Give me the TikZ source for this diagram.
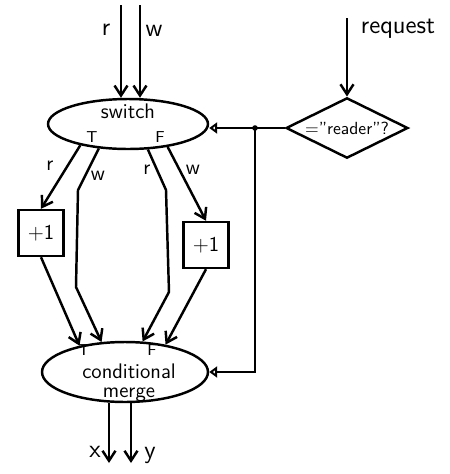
\documentclass[tikz,border=0pt]{standalone}
\usetikzlibrary{arrows.meta, shapes.geometric}
\tikzset{
    flow/.style={-{Straight Barb[length=2mm,width=2.6mm]}, line width=1.4pt},
    ctrl/.style={-{Triangle[open,length=1.6mm,width=2.2mm]}, line width=1.4pt},
    oval/.style={draw, ellipse, line width=1.4pt, inner sep=0pt},
    incbox/.style={draw, line width=1.4pt, minimum width=0.9cm, minimum height=0.92cm, inner sep=0pt, font=\sffamily\large},
    decision/.style={draw, diamond, aspect=1.75, minimum width=2.44cm, inner sep=0pt, line width=1.4pt},
    biglabel/.style={font=\sffamily\Large, inner sep=0pt},
    midlabel/.style={font=\sffamily\large, inner sep=0pt},
    port/.style={font=\sffamily\small, inner sep=0pt},
    every node/.style={font=\sffamily}
}
\begin{document}
\begin{tikzpicture}[x=0.02cm,y=-0.02cm]
\useasboundingbox (0,0) rectangle (450,474);

% switch and test
\node[oval, minimum width=3.2cm, minimum height=1cm] (switch) at (128,124) {};
\node[midlabel] (swname) at (128,111) {switch};
\node[port] (swT) at (92,137) {T};
\node[port] (swF) at (160,137) {F};
\node[decision] (reader) at (347,128) {=”reader”?};

% merge
\node[oval, minimum width=3.32cm, minimum height=1.2cm] (merge) at (125,372) {};
\node[port] (mgT) at (84,350) {T};
\node[port] (mgF) at (152,350) {F};
\node[midlabel, align=center] (mgname) at (129,383) {conditional\\[-3pt]merge};

% increments
\node[incbox] (incT) at (41,233) {+1};
\node[incbox] (incF) at (206,245) {+1};

% inputs
\coordinate (rin) at (121,5);
\coordinate (win) at (140,5);
\coordinate (req) at (347,18);
\draw[flow] (rin) -- (rin |- switch.north);
\draw[flow] (win) -- (win |- switch.north);
\draw[flow] (req) -- (reader.north);
\node[biglabel] (rlab) at (106,30) {r};
\node[biglabel] (wlab) at (154,31) {w};
\node[biglabel] (reqlab) at (398,29) {request};

% control
\coordinate (jn) at (255,128);
\draw[ctrl] (reader.west) -- (switch.east |- reader.west);
\fill (jn) circle (1.6pt);
\draw[ctrl] (jn) -- (jn |- merge.east) -- (merge.east);

% T branch
\coordinate (tw1) at (78,190);
\coordinate (tw2) at (76,287);
\draw[flow] (switch.204) -- (incT.north);
\draw[flow] (switch.220) -- (tw1) -- (tw2) -- (merge.128);
\draw[flow] (incT.south) -- (merge.150);
\node[midlabel] (trlab) at (50,166) {r};
\node[midlabel] (twlab) at (98,176) {w};

% F branch
\coordinate (fr1) at (166,190);
\coordinate (fr2) at (169,292);
\draw[flow] (switch.-52) -- (fr1) -- (fr2) -- (merge.60);
\draw[flow] (switch.-30) -- (incF.north);
\draw[flow] (incF.south) -- (merge.34);
\node[midlabel] (frlab) at (147,170) {r};
\node[midlabel] (fwlab) at (193,170) {w};

% outputs
\coordinate (xout) at (109,463);
\coordinate (yout) at (131,463);
\draw[flow] (merge.south -| xout) -- (xout);
\draw[flow] (merge.south -| yout) -- (yout);
\node[biglabel] (xlab) at (95,452) {x};
\node[biglabel] (ylab) at (150,455) {y};
\end{tikzpicture}
\end{document}
